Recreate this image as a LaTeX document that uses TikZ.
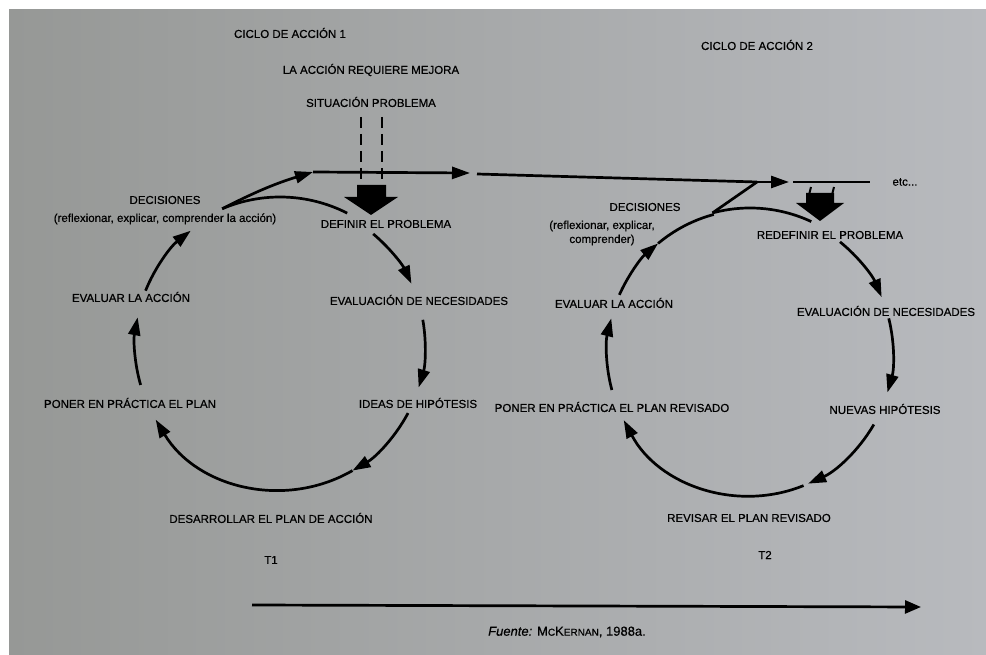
\documentclass[tikz,border=0pt]{standalone}
\usepackage{fontspec}
\setmainfont{Liberation Sans}[FakeBold=0.5]
\usetikzlibrary{arrows.meta,positioning}
\definecolor{pagedark}{RGB}{150,152,150}
\definecolor{pagelight}{RGB}{184,186,190}
\begin{document}
\begin{tikzpicture}[x=1pt, y=1pt, font=\fontsize{11.5}{14}\selectfont, lbl/.style={inner sep=1pt, align=center}, cyc/.style={line width=2.7pt}, tip/.style={-{Triangle[length=18pt,width=12pt]}}, stub/.style={line width=2.8pt, dash pattern=on 11pt off 6pt}]
\useasboundingbox (0,0) rectangle (986,654);
\fill[white] (0,0) rectangle (986,654);
\shade[left color=pagedark, right color=pagelight] (9,0) rectangle (986,644);
% titles
\node[lbl] (ttl1) at (290,621) {CICLO DE ACCIÓN 1};
\node[lbl] (mej) at (371,584) {LA ACCIÓN REQUIERE MEJORA};
\node[lbl] (sit) at (371,552) {SITUACIÓN PROBLEMA};
\node[lbl] (ttl2) at (757,609) {CICLO DE ACCIÓN 2};
% cycle 1
\node[lbl] (dec1) at (165,454) {DECISIONES};
\node[lbl, below=7pt of dec1] (why1) {(reflexionar, explicar, comprender la acción)};
\node[lbl] (def1) at (386,430) {DEFINIR EL PROBLEMA};
\node[lbl] (nec1) at (419,354) {EVALUACIÓN DE NECESIDADES};
\node[lbl] (hip1) at (418,251) {IDEAS DE HIPÓTESIS};
\node[lbl] (des1) at (271,136) {DESARROLLAR EL PLAN DE ACCIÓN};
\node[lbl] (t1) at (271,94) {T1};
\node[lbl] (pon1) at (130,251) {PONER EN PRÁCTICA EL PLAN};
\node[lbl] (eva1) at (131,357) {EVALUAR LA ACCIÓN};
% cycle 2
\node[lbl] (dec2) at (645,447) {DECISIONES};
\node[lbl] (why2) at (602,421) {(reflexionar, explicar,\\comprender)};
\node[lbl] (def2) at (830,419) {REDEFINIR EL PROBLEMA};
\node[lbl] (nec2) at (886,343) {EVALUACIÓN DE NECESIDADES};
\node[lbl] (hip2) at (885,245) {NUEVAS HIPÓTESIS};
\node[lbl] (rev2) at (749,136) {REVISAR EL PLAN REVISADO};
\node[lbl] (t2) at (765,99) {T2};
\node[lbl] (pon2) at (612,247) {PONER EN PRÁCTICA EL PLAN REVISADO};
\node[lbl] (eva2) at (614,351) {EVALUAR LA ACCIÓN};
\node[lbl] (etc) at (905,472) {etc...};
\node[lbl, font=\fontsize{13}{15}\selectfont] (src) at (567,22) {\textit{Fuente:} M{\fontsize{10}{12}\selectfont C}K{\fontsize{10}{12}\selectfont ERNAN}, 1988a.};
% arcs of cycle 1
\coordinate (c1) at (280,309);
\draw[cyc, tip] ([shift={(50:145pt)}]c1) arc[start angle=50, end angle=25, radius=145pt];
\draw[cyc, tip] ([shift={(10:145pt)}]c1) arc[start angle=10, end angle=-17, radius=145pt];
\draw[cyc, tip] ([shift={(-28:145pt)}]c1) arc[start angle=-28, end angle=-60, radius=145pt];
\draw[cyc, tip] ([shift={(-60:145pt)}]c1) arc[start angle=-60, end angle=-149, radius=145pt];
\draw[cyc, tip] ([shift={(196:145pt)}]c1) arc[start angle=196, end angle=169, radius=145pt];
\draw[cyc, tip] ([shift={(158:145pt)}]c1) arc[start angle=158, end angle=128, radius=145pt];
\coordinate (j1) at ([shift={(113:148pt)}]c1);
\draw[cyc] (j1) arc[start angle=113, end angle=63, radius=148pt];
% arcs of cycle 2
\coordinate (c2) at (750,301);
\draw[cyc, tip] ([shift={(51:143pt)}]c2) arc[start angle=51, end angle=23, radius=143pt];
\draw[cyc, tip] ([shift={(14:143pt)}]c2) arc[start angle=14, end angle=-16, radius=143pt];
\draw[cyc, tip] ([shift={(-30:143pt)}]c2) arc[start angle=-30, end angle=-66, radius=143pt];
\draw[cyc, tip] ([shift={(-68:143pt)}]c2) arc[start angle=-68, end angle=-152, radius=143pt];
\draw[cyc, tip] ([shift={(195:143pt)}]c2) arc[start angle=195, end angle=166, radius=143pt];
\draw[cyc, tip] ([shift={(156:143pt)}]c2) arc[start angle=156, end angle=130, radius=143pt];
\draw[cyc] ([shift={(130:143pt)}]c2) arc[start angle=130, end angle=105, radius=145pt];
\coordinate (j2) at ([shift={(105:145pt)}]c2);
\draw[cyc] (j2) arc[start angle=105, end angle=65, radius=145pt];
% top line
\coordinate (h1) at (313,482);
\coordinate (h2) at (470,481);
\coordinate (h3) at (477,480);
\coordinate (j3) at (757,472);
\coordinate (h4) at (789,472);
\coordinate (h5) at (793,472);
\coordinate (h6) at (870,472);
\draw[cyc, tip] (j1) to[bend left=5] (h1);
\draw[cyc, tip] (h1) -- (h2);
\draw[cyc] (h3) -- (j3);
\draw[cyc] (j2) -- (j3);
\draw[cyc, tip] (j3) -- (h4);
\draw[cyc] (h5) -- (h6);
% problem arrows
\draw[stub] (361,537) -- (361,469);
\draw[stub] (382,537) -- (382,469);
\fill[black] (357,469) -- (386,469) -- (386,457) -- (398,457) -- (371,439) -- (344,457) -- (357,457) -- cycle;
\draw[line width=2pt] (811,467) -- (809,459);
\draw[line width=2pt] (834,467) -- (832,459);
\fill[black] (806,461) -- (834,461) -- (834,451) -- (844,451) -- (820,433) -- (796,451) -- (806,451) -- cycle;
% time line
\coordinate (t0) at (252,49);
\coordinate (tE) at (921,47);
\draw[cyc, -{Triangle[length=16pt,width=13pt]}] (t0) -- (tE);
\end{tikzpicture}
\end{document}
